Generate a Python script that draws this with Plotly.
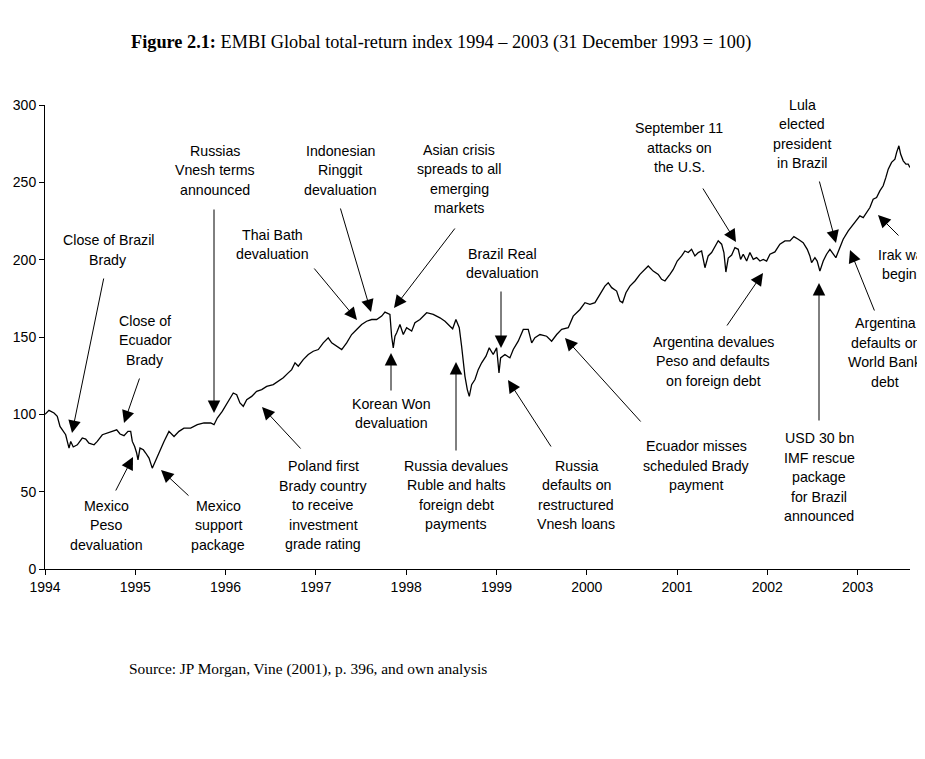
import plotly.graph_objects as go

# ---------------- data ----------------
years = [
    1994.000, 1994.044, 1994.100, 1994.136, 1994.166, 1994.192, 1994.229, 1994.247,
    1994.266, 1994.285, 1994.313, 1994.358, 1994.413, 1994.451, 1994.487, 1994.543,
    1994.579, 1994.635, 1994.690, 1994.745, 1994.794, 1994.831, 1994.875, 1994.919,
    1994.949, 1994.967, 1994.993, 1995.015, 1995.030, 1995.052, 1995.089, 1995.115,
    1995.152, 1995.188, 1995.226, 1995.274, 1995.318, 1995.373, 1995.429, 1995.484,
    1995.539, 1995.613, 1995.687, 1995.761, 1995.835, 1995.872, 1995.908, 1995.963,
    1996.012, 1996.085, 1996.123, 1996.159, 1996.196, 1996.234, 1996.289, 1996.344,
    1996.400, 1996.455, 1996.528, 1996.584, 1996.639, 1996.694, 1996.732, 1996.769,
    1996.805, 1996.860, 1996.916, 1996.971, 1997.027, 1997.082, 1997.137, 1997.175,
    1997.230, 1997.286, 1997.341, 1997.396, 1997.452, 1997.507, 1997.562, 1997.618,
    1997.673, 1997.729, 1997.765, 1997.802, 1997.820, 1997.839, 1997.857, 1997.876,
    1997.895, 1997.931, 1997.968, 1998.005, 1998.061, 1998.097, 1998.153, 1998.227,
    1998.300, 1998.374, 1998.430, 1998.485, 1998.515, 1998.551, 1998.588, 1998.614,
    1998.632, 1998.651, 1998.677, 1998.699, 1998.725, 1998.762, 1998.798, 1998.836,
    1998.884, 1998.920, 1998.964, 1999.002, 1999.028, 1999.046, 1999.094, 1999.149,
    1999.186, 1999.241, 1999.297, 1999.352, 1999.390, 1999.426, 1999.482, 1999.556,
    1999.611, 1999.667, 1999.722, 1999.795, 1999.850, 1999.925, 1999.980, 2000.035,
    2000.091, 2000.146, 2000.201, 2000.238, 2000.276, 2000.331, 2000.368, 2000.397,
    2000.434, 2000.478, 2000.534, 2000.589, 2000.644, 2000.681, 2000.736, 2000.792,
    2000.829, 2000.866, 2000.921, 2000.958, 2001.002, 2001.051, 2001.087, 2001.124,
    2001.161, 2001.198, 2001.235, 2001.272, 2001.309, 2001.345, 2001.383, 2001.420,
    2001.456, 2001.494, 2001.519, 2001.541, 2001.567, 2001.605, 2001.641, 2001.678,
    2001.704, 2001.733, 2001.771, 2001.807, 2001.844, 2001.881, 2001.918, 2001.955,
    2001.992, 2002.029, 2002.084, 2002.139, 2002.195, 2002.250, 2002.294, 2002.342,
    2002.397, 2002.442, 2002.471, 2002.490, 2002.527, 2002.552, 2002.582, 2002.619,
    2002.656, 2002.693, 2002.730, 2002.759, 2002.796, 2002.840, 2002.896, 2002.970,
    2003.025, 2003.062, 2003.099, 2003.136, 2003.172, 2003.210, 2003.246, 2003.283,
    2003.313, 2003.339, 2003.376, 2003.413, 2003.432, 2003.457, 2003.476, 2003.505,
    2003.535, 2003.560, 2003.579,
]
index_values = [
    100.0, 102.6, 100.9, 98.7, 92.2, 90.0, 86.8, 82.5,
    78.2, 82.5, 78.9, 80.3, 84.7, 84.0, 81.4, 80.3,
    82.5, 86.8, 87.9, 89.4, 90.0, 87.3, 86.2, 89.0,
    89.0, 82.5, 79.2, 75.0, 70.6, 78.2, 77.1, 75.0,
    71.7, 65.2, 70.6, 77.1, 82.5, 89.0, 85.7, 89.0,
    91.1, 91.1, 93.3, 94.4, 94.4, 93.3, 97.6, 101.9,
    107.0, 113.8, 112.7, 107.4, 105.2, 109.5, 111.6, 114.9,
    116.0, 118.1, 119.2, 121.4, 123.6, 126.8, 128.9, 133.3,
    131.1, 135.4, 138.7, 140.8, 141.9, 146.2, 149.5, 146.2,
    144.0, 141.9, 146.2, 151.6, 154.9, 158.1, 160.2, 161.3,
    161.3, 163.5, 166.1, 165.2, 164.6, 150.5, 143.0, 150.5,
    152.7, 158.1, 151.6, 156.0, 153.8, 159.2, 161.3, 165.7,
    164.6, 162.4, 160.2, 157.0, 155.3, 161.3, 156.0, 144.0,
    133.3, 124.6, 116.0, 111.6, 119.2, 122.5, 128.9, 133.3,
    137.6, 143.0, 138.7, 143.0, 126.8, 136.5, 138.7, 136.5,
    141.9, 147.3, 154.9, 154.9, 146.2, 149.5, 151.6, 150.5,
    147.3, 151.6, 154.9, 156.0, 163.5, 167.8, 172.2, 171.1,
    172.2, 177.5, 182.9, 185.1, 181.9, 179.7, 173.2, 172.2,
    178.6, 182.9, 186.2, 190.5, 193.7, 195.9, 192.6, 190.5,
    187.3, 186.2, 190.5, 193.7, 199.1, 202.4, 205.6, 204.6,
    206.7, 202.4, 204.6, 205.6, 194.8, 202.4, 204.6, 208.9,
    212.2, 210.0, 204.6, 192.0, 201.0, 203.0, 207.8, 206.7,
    200.2, 203.5, 199.1, 204.6, 200.2, 201.3, 199.1, 200.2,
    199.1, 203.5, 205.0, 210.0, 212.1, 212.1, 214.9, 213.2,
    211.0, 206.7, 202.4, 198.1, 201.3, 199.1, 192.6, 199.1,
    203.5, 206.7, 203.5, 201.3, 206.7, 213.2, 218.6, 224.0,
    228.3, 227.2, 230.5, 233.7, 239.1, 240.2, 244.5, 247.8,
    253.2, 258.5, 262.9, 265.0, 269.4, 273.6, 268.3, 263.9,
    261.8, 261.8, 259.6,
]

x_tick_values = [1994, 1995, 1996, 1997, 1998, 1999, 2000, 2001, 2002, 2003]
x_tick_labels = ["1994", "1995", "1996", "1997", "1998", "1999", "2000", "2001", "2002", "2003"]
y_tick_values = [0, 50, 100, 150, 200, 250, 300]

title_text = "<b>Figure 2.1:</b> EMBI Global total-return index 1994 – 2003 (31 December 1993 = 100)"
source_text = "Source: JP Morgan, Vine (2001), p. 396, and own analysis"

# event label, label centre (page px), arrow head (page px), arrow tail (page px)
events = [
    ("Close of Brazil<br>Brady", (108, 250), (72, 433), (104, 277)),
    ("Close of<br>Ecuador<br>Brady", (145, 340), (124, 423), (140, 377)),
    ("Mexico<br>Peso<br>devaluation", (106, 525), (133, 457), (115, 492)),
    ("Mexico<br>support<br>package", (218, 525), (161, 470), (190, 497)),
    ("Russias<br>Vnesh terms<br>announced", (215, 170), (214, 413), (214, 208)),
    ("Thai Bath<br>devaluation", (272, 244.5), (357, 320), (313, 267)),
    ("Indonesian<br>Ringgit<br>devaluation", (340, 170), (371, 312), (340, 207)),
    ("Asian crisis<br>spreads to all<br>emerging<br>markets", (459, 179), (394, 308), (456, 227)),
    ("Korean Won<br>devaluation", (391, 413.5), (391, 353), (391, 392)),
    ("Brazil Real<br>devaluation", (502, 263.5), (501, 348), (501, 290)),
    ("Poland first<br>Brady country<br>to receive<br>investment<br>grade rating", (323, 505), (262, 407), (302, 450)),
    ("Russia devalues<br>Ruble and halts<br>foreign debt<br>payments", (456, 495), (456, 362), (456, 452)),
    ("Russia<br>defaults on<br>restructured<br>Vnesh loans", (576, 495), (508, 380), (552, 448)),
    ("Ecuador misses<br>scheduled Brady<br>payment", (696, 465.5), (565, 338), (642, 423)),
    ("Argentina devalues<br>Peso and defaults<br>on foreign debt", (713, 361), (763, 273), (726, 327)),
    ("September 11<br>attacks on<br>the U.S.", (679, 147.5), (736, 242), (702, 187)),
    ("Lula<br>elected<br>president<br>in Brazil", (802, 134), (836, 243), (819, 180)),
    ("USD 30 bn<br>IMF rescue<br>package<br>for Brazil<br>announced", (819, 477), (819, 283), (819, 422)),
    ("Argentina<br>defaults on<br>World Bank<br>debt", (885, 352.5), (850, 250), (875, 312)),
    ("Irak war<br>begins", (903, 264.5), (878, 215), (900, 237)),
]

# ---------------- layout geometry ----------------
PAGE_OFF = 8                      # default body margin of the html page
PAGE_W, PAGE_H = 925, 759
PLOT_L, PLOT_T, PLOT_W, PLOT_H = 45, 105, 865, 464   # plot area in page pixels
W, H = PAGE_W, PAGE_H - 2 * PAGE_OFF
L, T = PLOT_L - PAGE_OFF, PLOT_T - PAGE_OFF
R, B = W - L - PLOT_W, H - T - PLOT_H
X_RANGE = [1994, 2003.58]
Y_RANGE = [0, 300]

def px_x(px):
    return X_RANGE[0] + (px - PLOT_L) * (X_RANGE[1] - X_RANGE[0]) / PLOT_W

def px_y(py):
    return Y_RANGE[0] + (PLOT_T + PLOT_H - py) * (Y_RANGE[1] - Y_RANGE[0]) / PLOT_H

FONT = "Liberation Sans, Arial, sans-serif"
SERIF = "Liberation Serif, Times New Roman, serif"

fig = go.Figure()
fig.add_trace(go.Scatter(
    x=years, y=index_values, mode="lines",
    line=dict(color="black", width=1.3),
    hoverinfo="skip", showlegend=False,
))

annotations = []
LINE_H = 19.5
for text, (tx, ty), (hx, hy), (sx, sy) in events:
    lines = text.split("<br>")
    n = len(lines)
    for i, ln in enumerate(lines):
        annotations.append(dict(
            x=px_x(tx), y=px_y(ty), xref="x", yref="y",
            text=ln, showarrow=False, xanchor="center", yanchor="middle",
            yshift=-(i - (n - 1) / 2) * LINE_H,
            font=dict(family=FONT, size=14.2, color="black"),
        ))
    annotations.append(dict(
        x=px_x(hx), y=px_y(hy), xref="x", yref="y",
        ax=sx - hx, ay=sy - hy, text="", showarrow=True,
        arrowhead=2, arrowsize=2.5, arrowwidth=1, arrowcolor="black", standoff=0,
    ))

annotations.append(dict(
    x=(129 - PLOT_L) / PLOT_W, y=(PLOT_T + PLOT_H - 42) / PLOT_H, xref="paper", yref="paper",
    text=title_text, showarrow=False, xanchor="left", yanchor="middle",
    font=dict(family=SERIF, size=18.3, color="black"),
))
annotations.append(dict(
    x=(127 - PLOT_L) / PLOT_W, y=(PLOT_T + PLOT_H - 669) / PLOT_H, xref="paper", yref="paper",
    text=source_text, showarrow=False, xanchor="left", yanchor="middle",
    font=dict(family=SERIF, size=15.4, color="black"),
))

axis_common = dict(
    showline=True, linecolor="black", linewidth=1,
    ticks="outside", ticklen=5, tickcolor="black", tickwidth=1,
    showgrid=False, zeroline=False, automargin=False,
    tickfont=dict(family=FONT, size=14, color="black"),
)

fig.update_layout(
    width=W, height=H,
    margin=dict(l=L, r=R, t=T, b=B, autoexpand=False),
    paper_bgcolor="white", plot_bgcolor="white",
    xaxis=dict(range=X_RANGE, tickvals=x_tick_values, ticktext=x_tick_labels, **axis_common),
    yaxis=dict(range=Y_RANGE, tickvals=y_tick_values, **axis_common),
    annotations=annotations,
    showlegend=False,
)

fig.write_html("out.html")
